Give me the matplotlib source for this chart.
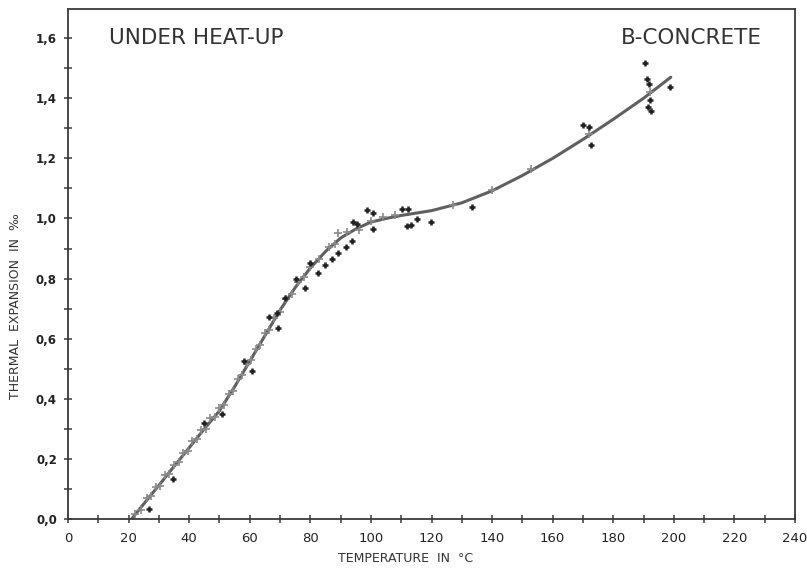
import matplotlib
matplotlib.use("Agg")
import matplotlib.pyplot as plt
from matplotlib.ticker import MultipleLocator, FixedLocator

# Fitted curve
curve_T = [21, 25, 30, 35, 40, 45, 50, 55, 60, 65, 70, 75, 80, 85, 90, 95, 100,
           105, 110, 115, 120, 130, 140, 150, 160, 170, 180, 190, 199]
curve_E = [0.0, 0.05, 0.112, 0.175, 0.237, 0.30, 0.36, 0.44, 0.525, 0.61, 0.695,
           0.77, 0.835, 0.89, 0.935, 0.965, 0.988, 1.0, 1.01, 1.018, 1.026, 1.052,
           1.092, 1.143, 1.2, 1.263, 1.33, 1.40, 1.47]

# Measured points lying on/near the curve (grey crosses)
grey_T = [22, 24, 26, 27.5, 29, 30.5, 32, 33.5, 35, 36.5, 38, 39.5, 41, 42.5, 44,
          45.5, 47, 48.5, 50, 51.5, 53, 54.5, 56, 57.5, 59, 60.5, 62, 63.5, 65,
          66.5, 68, 70, 72, 74, 76, 78, 80, 83, 86, 88, 89.2, 92, 96, 100, 104,
          108, 127, 140, 153, 172, 192]
grey_E = [0.015, 0.03, 0.07, 0.075, 0.105, 0.11, 0.145, 0.15, 0.18, 0.19, 0.22,
          0.225, 0.26, 0.265, 0.295, 0.30, 0.335, 0.34, 0.37, 0.378, 0.415, 0.425,
          0.465, 0.478, 0.515, 0.528, 0.565, 0.58, 0.618, 0.63, 0.668, 0.69, 0.732,
          0.75, 0.79, 0.805, 0.84, 0.864, 0.905, 0.915, 0.95, 0.955, 0.96, 0.99,
          1.005, 1.01, 1.045, 1.095, 1.165, 1.28, 1.42]

# Measured points scattered (black crosses)
black_T = [26.8, 34.8, 44.9, 50.9, 58.1, 60.6, 66.3, 68.9, 69.2, 71.6, 75.2, 78.2,
           79.9, 82.4, 85.0, 87.1, 89.2, 91.7, 93.7, 94.2, 95.5, 98.6, 100.6,
           100.8, 110.3, 112.3, 111.8, 113.1, 115.3, 119.8, 133.4, 170.1, 172.0,
           172.5, 190.5, 191.2, 191.8, 192.1, 191.5, 192.6, 198.7]
black_E = [0.032, 0.133, 0.32, 0.349, 0.527, 0.493, 0.673, 0.684, 0.636, 0.737,
           0.80, 0.767, 0.853, 0.819, 0.845, 0.865, 0.886, 0.904, 0.926, 0.987,
           0.981, 1.028, 1.017, 0.965, 1.031, 1.030, 0.975, 0.978, 0.997, 0.987,
           1.039, 1.311, 1.303, 1.244, 1.516, 1.465, 1.446, 1.394, 1.370, 1.358,
           1.436]

x_ticks = [0, 20, 40, 60, 80, 100, 120, 140, 160, 180, 200, 220, 240]
y_ticks = [0.0, 0.2, 0.4, 0.6, 0.8, 1.0, 1.2, 1.4, 1.6]
y_labels = ["0,0", "0,2", "0,4", "0,6", "0,8", "1,0", "1,2", "1,4", "1,6"]

fig = plt.figure(figsize=(8.07, 5.68), dpi=100)
ax = fig.add_axes([68/807, 49/568, 727/807, 510/568])

ink = "#3a3a3a"
ax.plot(curve_T, curve_E, color="#606060", lw=2.2, solid_capstyle="round", zorder=2)
ax.plot(grey_T, grey_E, ls="none", marker="+", ms=6, mew=1.2, color="#8a8a8a", zorder=3)
ax.plot(black_T, black_E, ls="none", marker="+", ms=4.5, mew=1.8, color="#222222", zorder=4)

ax.set_xlim(0, 240)
ax.set_ylim(0, 1.697)
ax.xaxis.set_major_locator(FixedLocator(x_ticks))
ax.xaxis.set_minor_locator(MultipleLocator(10))
ax.yaxis.set_major_locator(FixedLocator(y_ticks))
ax.yaxis.set_minor_locator(MultipleLocator(0.1))
ax.set_xticklabels([str(v) for v in x_ticks])
ax.set_yticklabels(y_labels)

for s in ax.spines.values():
    s.set_color(ink)
    s.set_linewidth(1.3)

ax.tick_params(axis="x", which="both", direction="inout", length=6, width=1.1,
               color=ink, labelsize=9.5, labelcolor="#222222", pad=6)
ax.tick_params(axis="y", which="both", direction="inout", length=6, width=1.1,
               color=ink, labelsize=8.5, labelcolor="#222222", pad=5)
for lab in ax.get_yticklabels():
    lab.set_fontweight("bold")

ax.text(13.5, 1.6, "UNDER HEAT-UP", fontsize=15.5, color="#333333",
        va="center", ha="left")
ax.text(229, 1.6, "B-CONCRETE", fontsize=15.5, color="#333333",
        va="center", ha="right")

fig.text(406/807, 1 - 558/568, "TEMPERATURE  IN  °C", fontsize=9, color="#333333",
         ha="center", va="center")
fig.text(16/807, 1 - 306/568, "THERMAL  EXPANSION  IN  ‰", fontsize=9,
         color="#333333", ha="center", va="center", rotation=90)

fig.savefig("out.png", dpi=100)
